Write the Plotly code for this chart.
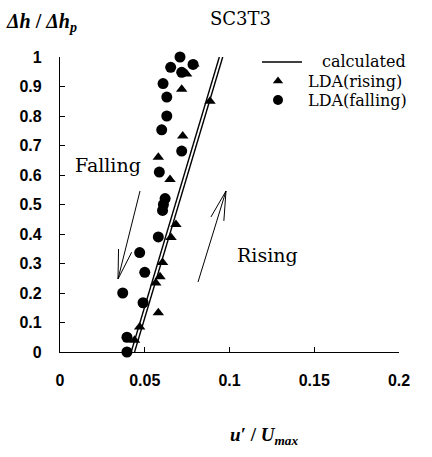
import math
import plotly.graph_objects as go

# Calculated curves (two nearly coincident predictions)
calc_a_x = [0.042, 0.094]
calc_a_y = [0.0, 1.0]
calc_b_x = [0.044, 0.096]
calc_b_y = [0.0, 1.0]

# LDA measurements, rising branch
rise_x = [0.079, 0.0747, 0.0718, 0.0885, 0.0724, 0.058, 0.0649, 0.0684,
          0.0655, 0.0605, 0.059, 0.0565, 0.058, 0.047, 0.044]
rise_y = [0.976, 0.942, 0.891, 0.85, 0.732, 0.66, 0.585, 0.432,
          0.388, 0.303, 0.255, 0.234, 0.133, 0.085, 0.04]

# LDA measurements, falling branch
fall_x = [0.0708, 0.0653, 0.0718, 0.0785, 0.0608, 0.063, 0.063, 0.060,
          0.0718, 0.0586, 0.062, 0.061, 0.0605, 0.058, 0.047, 0.050,
          0.037, 0.049, 0.0395, 0.0395]
fall_y = [1.0, 0.965, 0.948, 0.975, 0.91, 0.864, 0.80, 0.753,
          0.681, 0.61, 0.52, 0.50, 0.48, 0.39, 0.337, 0.27,
          0.20, 0.167, 0.05, 0.0]

x_ticks = [0, 0.05, 0.1, 0.15, 0.2]
x_tick_text = ["0", "0.05", "0.1", "0.15", "0.2"]
y_ticks = [round(i * 0.1, 1) for i in range(11)]
y_tick_text = ["0", "0.1", "0.2", "0.3", "0.4", "0.5", "0.6", "0.7", "0.8", "0.9", "1"]

legend_names = ["calculated", "LDA(rising)", "LDA(falling)"]

W, H = 432, 457
ML, MR, MT, MB = 60, 33, 57, 105
PW, PH = W - ML - MR, H - MT - MB
X_TOP, Y_TOP = 0.2, 1.0

SERIF = "Liberation Serif, Times New Roman, serif"
WIDE_SERIF = "DejaVu Serif, serif"
SANS = "Liberation Sans Narrow, Arial Narrow, Liberation Sans, sans-serif"


def px(x):
    """pixel x -> paper x"""
    return (x - ML) / PW


def py(y):
    """pixel y -> paper y"""
    return (H - MB - y) / PH


def dx(x):
    """pixel x -> data x"""
    return (x - ML) / PW * X_TOP


def dy(y):
    """pixel y -> data y"""
    return (H - MB - y) / PH * Y_TOP


fig = go.Figure()
fig.add_trace(go.Scatter(x=calc_a_x, y=calc_a_y, mode="lines", name=legend_names[0],
                         showlegend=False, cliponaxis=False,
                         line=dict(color="black", width=1.4)))
fig.add_trace(go.Scatter(x=calc_b_x, y=calc_b_y, mode="lines", showlegend=False,
                         cliponaxis=False, line=dict(color="black", width=1.4)))
fig.add_trace(go.Scatter(x=rise_x, y=rise_y, mode="markers", name=legend_names[1],
                         showlegend=False, cliponaxis=False,
                         marker=dict(symbol="triangle-up", size=10, color="black")))
fig.add_trace(go.Scatter(x=fall_x, y=fall_y, mode="markers", name=legend_names[2],
                         showlegend=False, cliponaxis=False,
                         marker=dict(symbol="circle", size=11, color="black")))

# Legend keys, drawn on an overlay axis pair measured in pixels
LEG_LINE_X0, LEG_LINE_X1, LEG_KEY_X = 262, 302, 278
LEG_ROWS = [62, 81, 100]
LEG_TEXT_X = [320, 306, 306]
fig.add_trace(go.Scatter(x=[LEG_LINE_X0, LEG_LINE_X1], y=[LEG_ROWS[0]] * 2, mode="lines",
                         xaxis="x2", yaxis="y2", showlegend=False, hoverinfo="skip",
                         line=dict(color="black", width=1.4)))
fig.add_trace(go.Scatter(x=[LEG_KEY_X], y=[LEG_ROWS[1]], mode="markers",
                         xaxis="x2", yaxis="y2", showlegend=False, hoverinfo="skip",
                         marker=dict(symbol="triangle-up", size=9, color="black")))
fig.add_trace(go.Scatter(x=[LEG_KEY_X], y=[LEG_ROWS[2]], mode="markers",
                         xaxis="x2", yaxis="y2", showlegend=False, hoverinfo="skip",
                         marker=dict(symbol="circle", size=10, color="black")))

axis_common = dict(showgrid=False, zeroline=False, showline=True, linecolor="black",
                   linewidth=1.2, ticks="inside", ticklen=5, tickcolor="black",
                   tickfont=dict(family=SANS, size=16, weight="bold"))

fig.update_layout(
    width=W, height=H,
    margin=dict(l=ML, r=MR, t=MT, b=MB),
    paper_bgcolor="white", plot_bgcolor="white",
    font=dict(family=SERIF, color="black", size=15),
    showlegend=False,
    xaxis=dict(range=[0, X_TOP], tickvals=x_ticks, ticktext=x_tick_text,
               ticklabelstandoff=14, **axis_common),
    yaxis=dict(range=[0, Y_TOP], tickvals=y_ticks, ticktext=y_tick_text,
               ticklabelstandoff=14, **axis_common),
    xaxis2=dict(range=[ML, W - MR], overlaying="x", visible=False),
    yaxis2=dict(range=[H - MB, MT], overlaying="y", visible=False),
)

annotations = [
    dict(text="SC3T3", xref="paper", yref="paper", x=px(240), y=py(18),
         xanchor="center", yanchor="middle", showarrow=False,
         font=dict(family=WIDE_SERIF, size=18)),
    dict(text="<i><b>Δh</b></i><b> / </b><i><b>Δh<sub>p</sub></b></i>",
         xref="paper", yref="paper", x=px(4), y=py(22),
         xanchor="left", yanchor="middle", showarrow=False,
         font=dict(family=SERIF, size=20)),
    dict(text="<i><b>u′</b></i><b> / </b><i><b>U<sub>max</sub></b></i>",
         xref="paper", yref="paper", x=px(264), y=py(436),
         xanchor="center", yanchor="middle", showarrow=False,
         font=dict(family=SERIF, size=19)),
    dict(text="Falling", x=dx(108), y=dy(165), showarrow=False,
         font=dict(family=WIDE_SERIF, size=19)),
    dict(text="Rising", x=dx(267), y=dy(255), showarrow=False,
         font=dict(family=WIDE_SERIF, size=19)),
]
for name, tx, ty in zip(legend_names, LEG_TEXT_X, LEG_ROWS):
    annotations.append(dict(text=name, xref="paper", yref="paper", x=px(tx), y=py(ty),
                            xanchor="left", yanchor="middle", showarrow=False,
                            font=dict(family=WIDE_SERIF, size=16)))
fig.update_layout(annotations=annotations)

# Direction arrows with open V heads (pixel coordinates on the overlay axes)
ARROWS = [((140, 191), (118, 279)),   # falling
          ((198, 282), (226, 191))]   # rising
HEAD_LEN, HEAD_ANGLE = 30, math.radians(13)
shapes = []
for (x0, y0), (x1, y1) in ARROWS:
    ang = math.atan2(y0 - y1, x0 - x1)
    hx1 = x1 + HEAD_LEN * math.cos(ang + HEAD_ANGLE)
    hy1 = y1 + HEAD_LEN * math.sin(ang + HEAD_ANGLE)
    hx2 = x1 + HEAD_LEN * math.cos(ang - HEAD_ANGLE)
    hy2 = y1 + HEAD_LEN * math.sin(ang - HEAD_ANGLE)
    path = (f"M{x0},{y0} L{x1},{y1} M{hx1:.2f},{hy1:.2f} "
            f"L{x1},{y1} L{hx2:.2f},{hy2:.2f}")
    shapes.append(dict(type="path", xref="x2", yref="y2", path=path,
                       line=dict(color="black", width=1)))
fig.update_layout(shapes=shapes)

fig.write_html("out.html")
